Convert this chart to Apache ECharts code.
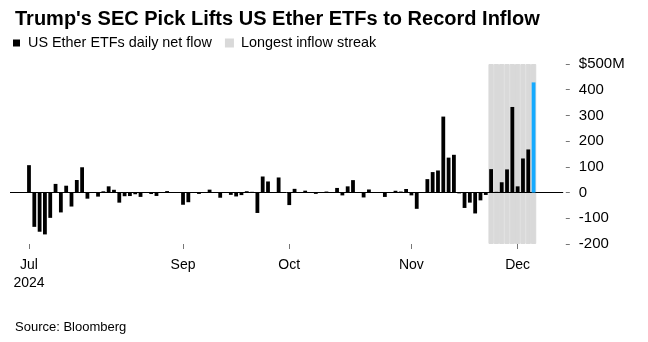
<!DOCTYPE html>
<html><head><meta charset="utf-8">
<script src="https://cdn.jsdelivr.net/npm/echarts@6/dist/echarts.min.js"></script>
<style>html,body{margin:0;padding:0;background:#fff}#c{width:648px;height:342px}</style>
</head><body><div id="c"></div>
<script>
// Trading days (US Ether ETF daily net flow, $M)
const dates = [
  'Jul 23','Jul 24','Jul 25','Jul 26','Jul 29','Jul 30','Jul 31',
  'Aug 1','Aug 2','Aug 5','Aug 6','Aug 7','Aug 8','Aug 9','Aug 12','Aug 13','Aug 14','Aug 15','Aug 16','Aug 19','Aug 20','Aug 21','Aug 22','Aug 23','Aug 26','Aug 27','Aug 28','Aug 29','Aug 30',
  'Sep 3','Sep 4','Sep 5','Sep 6','Sep 9','Sep 10','Sep 11','Sep 12','Sep 13','Sep 16','Sep 17','Sep 18','Sep 19','Sep 20','Sep 23','Sep 24','Sep 25','Sep 26','Sep 27','Sep 30',
  'Oct 1','Oct 2','Oct 3','Oct 4','Oct 7','Oct 8','Oct 9','Oct 10','Oct 11','Oct 14','Oct 15','Oct 16','Oct 17','Oct 18','Oct 21','Oct 22','Oct 23','Oct 24','Oct 25','Oct 28','Oct 29','Oct 30','Oct 31',
  'Nov 1','Nov 4','Nov 5','Nov 6','Nov 7','Nov 8','Nov 11','Nov 12','Nov 13','Nov 14','Nov 15','Nov 18','Nov 19','Nov 20','Nov 21','Nov 22','Nov 25','Nov 26','Nov 27','Nov 29',
  'Dec 2','Dec 3','Dec 4','Dec 5'
];
const flows = [
  106.6,-133.3,-152.3,-162.7,-98.3,33.7,-77.2,
  26.7,-54.3,48.8,98.4,-23.7,-0.5,-15.7,4.9,24.3,10.8,-39.2,-14.2,-13.5,-6.5,-16.8,-0.3,-5.7,-13.2,-0.5,5.8,-0.8,-1.0,
  -47.4,-37.5,-0.2,-5.2,-0.3,11.4,-0.5,-20.1,1.5,-9.0,-15.1,-9.8,5.2,2.9,-79.3,62.5,43.2,-0.1,58.7,0.3,
  -48.6,14.5,-0.2,7.4,0.2,-5.0,0.1,4.0,0.3,18.0,-11.0,24.2,48.4,2.3,-19.0,12.0,2.0,2.0,-17.0,-0.3,7.0,4.0,14.0,
  -10.9,-63.2,0.1,52.3,79.7,85.9,295.5,135.9,146.9,-3.2,-59.8,-39.1,-81.2,-30.3,-9.2,91.2,2.8,40.1,90.1,332.9,
  24.2,132.6,167.7,428.4
];
const monthLabels = {'Jul 23':'Jul\n2024','Sep 3':'Sep','Oct 1':'Oct','Nov 1':'Nov','Dec 2':'Dec'};
const streakStart = 'Nov 22', streakEnd = 'Dec 5';
const highlightDate = 'Dec 5';
const yMin = -200, yMax = 500, yStep = 100;
const seriesName = 'US Ether ETFs daily net flow';
const streakName = 'Longest inflow streak';

// layout padding of empty slots on the axis
const padBefore = 3, padAfter = 5;
const cats = [];
for (let i = 0; i < padBefore; i++) cats.push('pre' + i);
dates.forEach(d => cats.push(d));
for (let i = 0; i < padAfter; i++) cats.push('post' + i);
const barData = cats.map(c => { const k = dates.indexOf(c); return k >= 0 ? flows[k] : null; });
const sI = cats.indexOf(streakStart), eI = cats.indexOf(streakEnd);
const shadeTop = cats.map((c, i) => (i >= sI && i <= eI) ? yMax : null);
const shadeBot = cats.map((c, i) => (i >= sI && i <= eI) ? yMin : null);

const FONT = "'Liberation Sans', Arial, sans-serif";
const SHADE = '#d9d9d9';
const chart = echarts.init(document.getElementById('c'), null, {renderer: 'canvas'});
chart.setOption({
  animation: false,
  textStyle: {fontFamily: FONT, color: '#000'},
  title: [
    {text: "Trump's SEC Pick Lifts US Ether ETFs to Record Inflow", left: 10, top: 4,
     textStyle: {fontFamily: FONT, fontSize: 20, fontWeight: 'bold', color: '#000'}},
    {text: 'Source: Bloomberg', left: 10, top: 316,
     textStyle: {fontFamily: FONT, fontSize: 13, fontWeight: 'normal', color: '#000'}}
  ],
  legend: {
    left: 13, top: 36, padding: 0, itemWidth: 7, itemHeight: 7, itemGap: 13, icon: 'rect',
    data: [{name: seriesName, itemStyle: {color: '#000'}}, {name: streakName, itemStyle: {color: SHADE}}],
    textStyle: {fontFamily: FONT, fontSize: 14.4, color: '#000', padding: [0, 0, 0, 3]}
  },
  grid: {left: 10.4, right: 85.2, top: 64, bottom: 98, containLabel: false},
  xAxis: [
    {type: 'category', data: cats, boundaryGap: true,
     axisLine: {show: false, onZero: false},
     axisTick: {show: true, alignWithLabel: true, length: 5, lineStyle: {color: '#777', width: 1},
                interval: (i, v) => v in monthLabels},
     axisLabel: {interval: (i, v) => v in monthLabels, formatter: v => monthLabels[v] || '',
                 fontFamily: FONT, fontSize: 14, color: '#000', lineHeight: 18, margin: 12},
     splitLine: {show: false}},
    {type: 'category', data: cats, boundaryGap: true, position: 'bottom', z: 3,
     axisLine: {show: true, onZero: true, lineStyle: {color: '#000', width: 1}},
     axisTick: {show: false}, axisLabel: {show: false}, splitLine: {show: false}}
  ],
  yAxis: {
    type: 'value', position: 'right', min: yMin, max: yMax, interval: yStep, offset: 3,
    axisLine: {show: false},
    axisTick: {show: true, length: 4, lineStyle: {color: '#777'}},
    splitLine: {show: false},
    axisLabel: {margin: 13, fontFamily: FONT, fontSize: 15, color: '#000',
                formatter: v => v === yMax ? '$' + v + 'M' : String(v)}
  },
  series: [
    {name: streakName, type: 'bar', xAxisIndex: 1, stack: 'shade', data: shadeTop,
     barWidth: '100%', itemStyle: {color: SHADE, borderColor: SHADE, borderWidth: 1}, z: 1, silent: true},
    {name: streakName + ' ', type: 'bar', xAxisIndex: 1, stack: 'shade', data: shadeBot,
     barWidth: '100%', itemStyle: {color: SHADE, borderColor: SHADE, borderWidth: 1}, z: 1, silent: true},
    {name: seriesName, type: 'bar', xAxisIndex: 0, data: barData, barWidth: 3.8, z: 5,
     itemStyle: {color: p => cats[p.dataIndex] === highlightDate ? '#15aaff' : '#000'}}
  ]
});
</script></body></html>
